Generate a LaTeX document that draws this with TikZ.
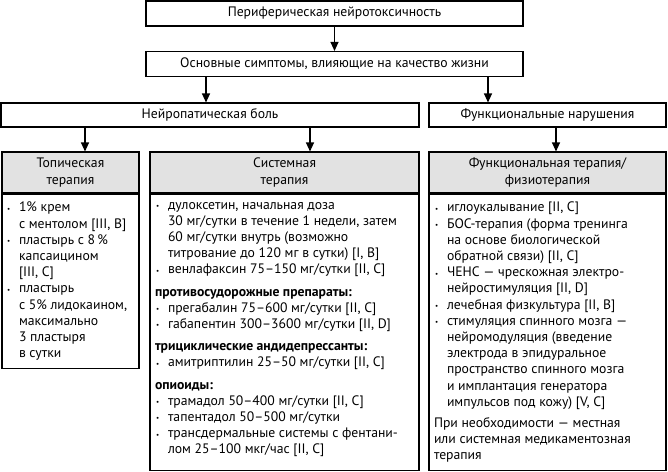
\documentclass[tikz,border=0pt]{standalone}
\usepackage{fontspec}
\setmainfont{PT Sans}
\usetikzlibrary{arrows.meta,positioning}

\definecolor{headgray}{RGB}{226,226,226}

% list helpers for the box texts
\newcommand{\itm}[1]{\par\noindent\hangindent=13pt\hangafter=1\makebox[13pt][l]{\hspace{1pt}\raisebox{0.6pt}{\scriptsize\textbullet}}#1}
\newcommand{\grp}[1]{\par\vspace{6pt}\noindent\textbf{#1}}
\newcommand{\flush}{\parindent=0pt\rightskip=0pt plus 1fil\parfillskip=0pt plus 1fil}

\begin{document}
\begin{tikzpicture}[
    x=1pt, y=-1pt,
    box/.style={draw, line width=1.1pt, inner sep=0pt, font=\fontsize{13.7}{16.2}\selectfont},
    head/.style={box, fill=headgray, align=center},
    arr/.style={line width=1.1pt, -{Triangle[length=9pt,width=8pt]}}
]
\useasboundingbox (0,0) rectangle (668,471);

% top levels
\node[box, minimum width=377pt, minimum height=25pt] (top) at (334.5,13.5) {Периферическая нейротоксичность};
\node[box, minimum width=377pt, minimum height=25pt] (sym) at (334.5,64) {Основные симптомы, влияющие на качество жизни};
\node[box, minimum width=418pt, minimum height=24pt] (nb) at (210,115) {Нейропатическая боль};
\node[box, minimum width=237pt, minimum height=24pt] (fn) at (547.5,115) {Функциональные нарушения};

% headers
\node[head, minimum width=137pt, minimum height=41pt] (hd1) at (70.5,172.5) {Топическая\\терапия};
\node[head, minimum width=269pt, minimum height=41pt] (hd2) at (284.5,172.5) {Системная\\терапия};
\node[head, minimum width=237pt, minimum height=41pt] (hd3) at (547.5,172.5) {Функциональная терапия/\\физиотерапия};

% topical therapy
\node[box, anchor=north, inner xsep=4pt, inner ysep=8pt] (bd1) at (hd1.south) {%
  \begin{minipage}[c][158pt][t]{129pt}\flush
  \itm{1\% крем\\с ментолом [III, B]}
  \itm{пластырь с 8\,\%\\капсаицином\\{}[III, C]}
  \itm{пластырь\\с 5\% лидокаином,\\максимально\\3 пластыря\\в сутки}
  \end{minipage}};

% systemic therapy
\node[box, anchor=north, inner xsep=5pt, inner ysep=8pt] (bd2) at (hd2.south) {%
  \begin{minipage}[c][260pt][t]{259pt}\flush
  \itm{дулоксетин, начальная доза\\30 мг/сутки в течение 1 недели, затем\\60 мг/сутки внутрь (возможно\\титрование до 120 мг в сутки) [I, B]}
  \itm{венлафаксин 75–150 мг/сутки [II, C]}
  \grp{противосудорожные препараты:}
  \itm{прегабалин 75–600 мг/сутки [II, C]}
  \itm{габапентин 300–3600 мг/сутки [II, D]}
  \grp{трициклические андидепрессанты:}
  \itm{амитриптилин 25–50 мг/сутки [II, C]}
  \grp{опиоиды:}
  \itm{трамадол 50–400 мг/сутки [II, C]}
  \itm{тапентадол 50–500 мг/сутки}
  \itm{трансдермальные системы с фентани-\\лом 25–100 мкг/час [II, C]}
  \end{minipage}};

% functional therapy
\node[box, anchor=north, inner xsep=5pt, inner ysep=8pt] (bd3) at (hd3.south) {%
  \begin{minipage}[c][260pt][t]{227pt}\flush
  \itm{иглоукалывание [II, C]}
  \itm{БОС-терапия (форма тренинга\\на основе биологической\\обратной связи) [II, C]}
  \itm{ЧЕНС — чрескожная электро-\\нейростимуляция [II, D]}
  \itm{лечебная физкультура [II, B]}
  \itm{стимуляция спинного мозга —\\нейромодуляция (введение\\электрода в эпидуральное\\пространство спинного мозга\\и имплантация генератора\\импульсов под кожу) [V, C]}
  \par\vspace{5pt}\noindent При необходимости — местная\\или системная медикаментозная\\терапия
  \end{minipage}};

% arrows
\draw[arr] (top) -- (sym);
\draw[arr] ([xshift=-128.5pt]sym.south) -- ([xshift=-128.5pt]sym.south |- nb.north);
\draw[arr] ([xshift=153.5pt]sym.south) -- ([xshift=153.5pt]sym.south |- fn.north);
\draw[arr] ([xshift=14.5pt]hd1.north |- nb.south) -- ([xshift=14.5pt]hd1.north);
\draw[arr] ([xshift=25.5pt]hd2.north |- nb.south) -- ([xshift=25.5pt]hd2.north);
\draw[arr] ([xshift=8.5pt]hd3.north |- fn.south) -- ([xshift=8.5pt]hd3.north);
\end{tikzpicture}
\end{document}
